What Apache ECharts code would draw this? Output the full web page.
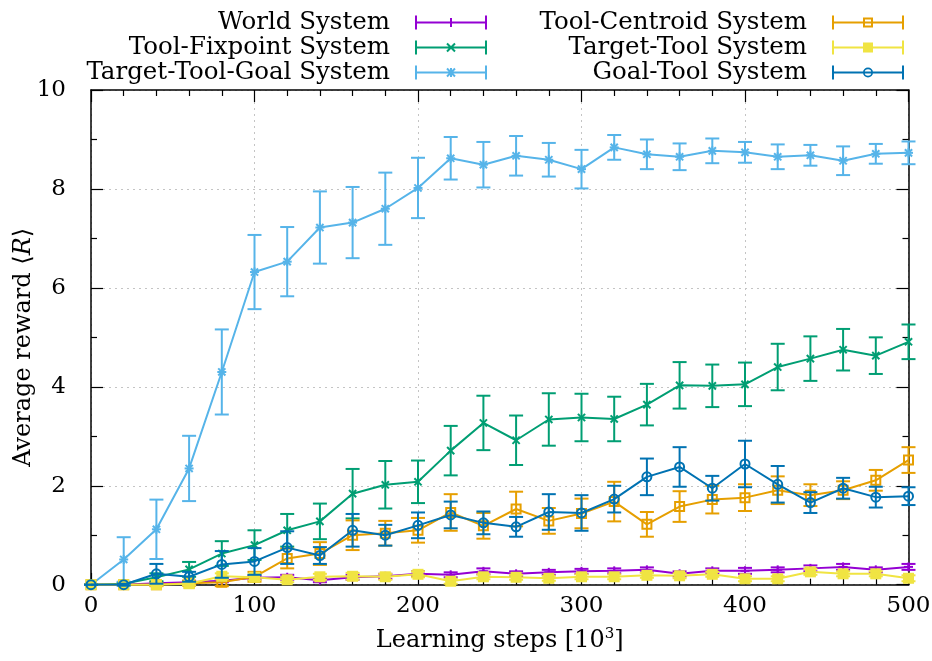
<!DOCTYPE html>
<html><head><meta charset="utf-8">
<script src="https://cdn.jsdelivr.net/npm/echarts@6/dist/echarts.min.js"></script>
<style>html,body{margin:0;padding:0;background:#fff}#c{width:932px;height:661px}</style>
</head><body><div id="c"></div>
<script>
const steps = [0,20,40,60,80,100,120,140,160,180,200,220,240,260,280,300,320,340,360,380,400,420,440,460,480,500];
const xTicks = [0,100,200,300,400,500];
const yTicks = [0,2,4,6,8,10];
const names = ['World System','Tool-Fixpoint System','Target-Tool-Goal System','Tool-Centroid System','Target-Tool System','Goal-Tool System'];

const worldMean = [0,0,0.03,0.05,0.08,0.14,0.15,0.09,0.15,0.17,0.22,0.2,0.27,0.22,0.25,0.27,0.28,0.3,0.22,0.28,0.28,0.3,0.33,0.36,0.3,0.36];
const worldErr  = [0,0,0.02,0.03,0.03,0.04,0.05,0.04,0.05,0.05,0.05,0.05,0.06,0.05,0.05,0.05,0.05,0.05,0.05,0.05,0.06,0.05,0.06,0.06,0.05,0.06];
const fixMean = [0,0.02,0.15,0.31,0.63,0.80,1.10,1.28,1.84,2.02,2.08,2.71,3.27,2.92,3.34,3.38,3.35,3.64,4.03,4.02,4.05,4.40,4.57,4.75,4.63,4.91];
const fixErr  = [0,0.02,0.08,0.15,0.25,0.3,0.33,0.36,0.5,0.48,0.43,0.5,0.55,0.5,0.53,0.48,0.45,0.42,0.47,0.43,0.44,0.47,0.45,0.42,0.37,0.35];
const ttgMean = [0,0.51,1.12,2.35,4.30,6.32,6.53,7.22,7.32,7.60,8.02,8.62,8.49,8.67,8.59,8.40,8.84,8.70,8.65,8.77,8.74,8.65,8.68,8.57,8.71,8.73];
const ttgErr  = [0,0.45,0.6,0.66,0.86,0.75,0.7,0.73,0.72,0.73,0.61,0.43,0.46,0.4,0.34,0.39,0.25,0.3,0.27,0.25,0.21,0.25,0.21,0.29,0.2,0.23];
const centMean = [0,0,0,0.03,0.05,0.16,0.53,0.63,1.00,1.04,1.10,1.46,1.19,1.53,1.29,1.44,1.68,1.22,1.58,1.72,1.76,1.91,1.81,1.91,2.11,2.52];
const centErr  = [0,0,0.03,0.05,0.08,0.1,0.2,0.23,0.3,0.25,0.25,0.37,0.26,0.35,0.26,0.3,0.4,0.25,0.31,0.28,0.27,0.28,0.22,0.18,0.21,0.26];
const ttMean = [0,0,0,0.02,0.17,0.15,0.1,0.16,0.17,0.16,0.21,0.07,0.16,0.15,0.13,0.16,0.16,0.19,0.18,0.21,0.12,0.12,0.26,0.22,0.22,0.13];
const ttErr  = [0,0,0.02,0.03,0.06,0.06,0.05,0.06,0.07,0.06,0.06,0.05,0.05,0.05,0.05,0.05,0.05,0.05,0.05,0.05,0.05,0.05,0.06,0.05,0.05,0.06];
const gtMean = [0,0,0.22,0.16,0.41,0.47,0.75,0.59,1.10,1.00,1.20,1.41,1.25,1.17,1.47,1.45,1.73,2.18,2.38,1.95,2.44,2.03,1.66,1.95,1.77,1.79];
const gtErr  = [0,0.02,0.2,0.1,0.27,0.27,0.33,0.17,0.33,0.21,0.26,0.27,0.23,0.2,0.36,0.36,0.27,0.37,0.4,0.25,0.47,0.37,0.21,0.21,0.21,0.18];

const means = [worldMean, fixMean, ttgMean, centMean, ttMean, gtMean];
const errs = [worldErr, fixErr, ttgErr, centErr, ttErr, gtErr];
const colors = ['#9400d3','#009e73','#56b4e9','#e69f00','#f0e442','#0072b2'];
const markers = ['plus','cross','star','square','fsquare','circle'];

const BASE = 'M0 0 H2 V6 H70 V0 H72 V14 H70 V8 H2 V14 H0 Z ';
const VBAR = 'M35 2.5 H37 V11.5 H35 Z ';
const D1 = 'M31.3 3.7 L32.7 2.3 L40.7 10.3 L39.3 11.7 Z M39.3 2.3 L40.7 3.7 L32.7 11.7 L31.3 10.3 Z ';
const icons = {
  plus: BASE + VBAR,
  cross: BASE + D1,
  star: BASE + VBAR + D1,
  square: BASE + 'M31 2 H41 V12 H31 Z M33 4 V10 H39 V4 Z',
  fsquare: BASE + 'M31 2 H41 V12 H31 Z',
  circle: BASE + 'M41 7 A5 5 0 1 1 31 7 A5 5 0 1 1 41 7 Z M39.3 7 A3.3 3.3 0 1 0 32.7 7 A3.3 3.3 0 1 0 39.3 7 Z'
};

function renderer(marker, color) {
  return function (params, api) {
    const x = api.value(0), y = api.value(1), e = api.value(2);
    const c = api.coord([x, y]);
    const hi = api.coord([x, y + e]);
    const lo = api.coord([x, y - e]);
    const cap = 7, s = 4.5;
    const ls = {stroke: color, lineWidth: 2, fill: null};
    const ch = [
      {type: 'line', shape: {x1: c[0], y1: hi[1], x2: c[0], y2: lo[1]}, style: ls},
      {type: 'line', shape: {x1: c[0] - cap, y1: hi[1], x2: c[0] + cap, y2: hi[1]}, style: ls},
      {type: 'line', shape: {x1: c[0] - cap, y1: lo[1], x2: c[0] + cap, y2: lo[1]}, style: ls}
    ];
    const cx = c[0], cy = c[1];
    if (marker === 'plus' || marker === 'star') {
      ch.push({type: 'line', shape: {x1: cx - s, y1: cy, x2: cx + s, y2: cy}, style: ls});
      ch.push({type: 'line', shape: {x1: cx, y1: cy - s, x2: cx, y2: cy + s}, style: ls});
    }
    if (marker === 'cross' || marker === 'star') {
      const d = s * 0.8;
      ch.push({type: 'line', shape: {x1: cx - d, y1: cy - d, x2: cx + d, y2: cy + d}, style: ls});
      ch.push({type: 'line', shape: {x1: cx - d, y1: cy + d, x2: cx + d, y2: cy - d}, style: ls});
    }
    if (marker === 'square') {
      ch.push({type: 'rect', shape: {x: cx - s, y: cy - s, width: 2 * s, height: 2 * s}, style: {stroke: color, lineWidth: 2, fill: null}});
    }
    if (marker === 'fsquare') {
      ch.push({type: 'rect', shape: {x: cx - 5.5, y: cy - 5.5, width: 11, height: 11}, style: {fill: color, stroke: null}});
    }
    if (marker === 'circle') {
      ch.push({type: 'circle', shape: {cx: cx, cy: cy, r: s}, style: {stroke: color, lineWidth: 2, fill: null}});
    }
    return {type: 'group', children: ch};
  };
}

const series = [];
names.forEach(function (n, k) {
  series.push({
    name: n, type: 'line', xAxisIndex: 0, yAxisIndex: 0,
    data: steps.map(function (x, i) { return [x, means[k][i]]; }),
    showSymbol: false, symbol: 'none', silent: true,
    lineStyle: {color: colors[k], width: 2}, itemStyle: {color: colors[k]},
    animation: false, z: 2 + k
  });
  series.push({
    name: n, type: 'custom', xAxisIndex: 0, yAxisIndex: 0,
    data: steps.map(function (x, i) { return [x, means[k][i], errs[k][i]]; }),
    encode: {x: 0, y: 1},
    renderItem: renderer(markers[k], colors[k]),
    itemStyle: {color: colors[k]},
    animation: false, silent: true, z: 2 + k
  });
});

const serif = 'DejaVu Serif';
const legendText = {fontFamily: serif, fontSize: 24.5, color: '#000', lineHeight: 22, padding: [-1.5, 20, -1.5, 0]};
function legendData(idx) {
  return idx.map(function (k) { return {name: names[k], icon: 'path://' + icons[markers[k]], itemStyle: {color: colors[k]}}; });
}

const axisCommon = {
  axisLine: {show: true, onZero: false, lineStyle: {color: '#000', width: 1.5}},
  axisTick: {show: true, inside: true, length: 12, lineStyle: {color: '#000', width: 1.2}},
  minorTick: {show: true, length: 6, lineStyle: {color: '#000', width: 1.2}},
};

const chart = echarts.init(document.getElementById('c'), null, {renderer: 'canvas'});
chart.setOption({
  animation: false,
  backgroundColor: '#fff',
  grid: {left: 91, right: 23.5, top: 90, bottom: 76.3, containLabel: false, outerBoundsMode: 'none'},
  legend: [
    {data: legendData([0, 1, 2]), orient: 'vertical', align: 'right', right: 445, top: 10, padding: 0,
     itemWidth: 72, itemHeight: 14, itemGap: 0, selectedMode: false, textStyle: legendText},
    {data: legendData([3, 4, 5]), orient: 'vertical', align: 'right', right: 28, top: 10, padding: 0,
     itemWidth: 72, itemHeight: 14, itemGap: 0, selectedMode: false, textStyle: legendText}
  ],
  xAxis: [
    Object.assign({type: 'value', position: 'bottom', min: xTicks[0], max: xTicks[xTicks.length - 1], interval: xTicks[1] - xTicks[0],
      minorTick: Object.assign({}, axisCommon.minorTick, {splitNumber: 5}),
      splitLine: {show: true, lineStyle: {color: '#c4c4c4', width: 1, type: [2, 4]}},
      axisLabel: {margin: 10, color: '#000', fontFamily: serif, fontSize: 23},
      name: 'Learning steps [10{sup|3}]', nameLocation: 'middle', nameGap: 42, nameMoveOverlap: false,
      nameTextStyle: {color: '#000', fontFamily: serif, fontSize: 24, lineHeight: 28,
        rich: {sup: {fontFamily: serif, fontSize: 15, verticalAlign: 'top', lineHeight: 16}}}
    }, {axisLine: axisCommon.axisLine, axisTick: axisCommon.axisTick}),
    Object.assign({type: 'value', position: 'top', min: xTicks[0], max: xTicks[xTicks.length - 1], interval: xTicks[1] - xTicks[0],
      minorTick: Object.assign({}, axisCommon.minorTick, {splitNumber: 5}),
      splitLine: {show: false}, axisLabel: {show: false}
    }, {axisLine: axisCommon.axisLine, axisTick: axisCommon.axisTick})
  ],
  yAxis: [
    Object.assign({type: 'value', position: 'left', min: yTicks[0], max: yTicks[yTicks.length - 1], interval: yTicks[1] - yTicks[0],
      minorTick: Object.assign({}, axisCommon.minorTick, {splitNumber: 2}),
      splitLine: {show: true, lineStyle: {color: '#c4c4c4', width: 1, type: [2, 4]}},
      axisLabel: {margin: 25, color: '#000', fontFamily: serif, fontSize: 23},
      name: 'Average reward \u27E8{i|R}\u27E9', nameLocation: 'middle', nameGap: 55, nameMoveOverlap: false,
      nameTextStyle: {color: '#000', fontFamily: serif, fontSize: 24, padding: [0, 20, 0, 0],
        rich: {i: {fontFamily: serif, fontSize: 24, fontStyle: 'italic'}}}
    }, {axisLine: axisCommon.axisLine, axisTick: axisCommon.axisTick}),
    Object.assign({type: 'value', position: 'right', min: yTicks[0], max: yTicks[yTicks.length - 1], interval: yTicks[1] - yTicks[0],
      minorTick: Object.assign({}, axisCommon.minorTick, {splitNumber: 2}),
      splitLine: {show: false}, axisLabel: {show: false}
    }, {axisLine: axisCommon.axisLine, axisTick: axisCommon.axisTick})
  ],
  series: series
});
</script></body></html>
